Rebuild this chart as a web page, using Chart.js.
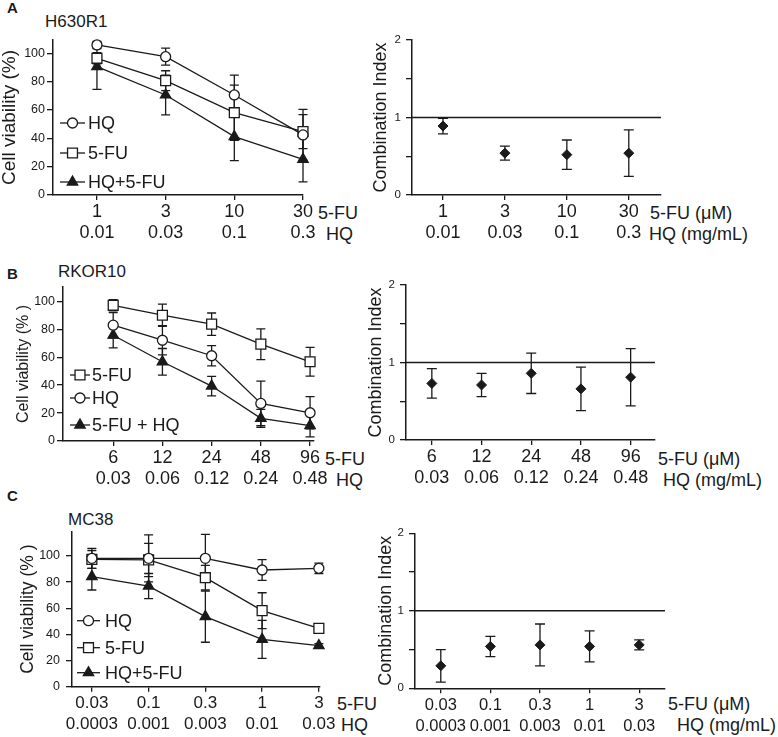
<!DOCTYPE html>
<html>
<head>
<meta charset="utf-8">
<script src="https://cdn.jsdelivr.net/npm/chart.js@4.4.0/dist/chart.umd.min.js"></script>
<style>
  body { margin: 0; background: #fff; width: 778px; height: 737px; position: relative; overflow: hidden;
         font-family: 'Liberation Sans', Arial, sans-serif; color: #1a1a1a; }
  canvas { position: absolute; }
  .t { position: absolute; white-space: nowrap; line-height: 1; transform: translateY(-50%); font-size: 18px; }
  .p { font-weight: bold; font-size: 15px; }
  .n { font-size: 17px; }
</style>
</head>
<body>
<!-- panel letters and cell line names -->
<div class="t p" style="left:7px;top:7px">A</div>
<div class="t n" style="left:45px;top:21px">H630R1</div>
<div class="t p" style="left:7px;top:273px">B</div>
<div class="t n" style="left:58px;top:271px">RKOR10</div>
<div class="t p" style="left:7px;top:495px">C</div>
<div class="t n" style="left:68px;top:519px">MC38</div>

<!-- dose row names -->
<div class="t" style="left:318px;top:213px">5-FU</div>
<div class="t" style="left:326px;top:234px">HQ</div>
<div class="t" style="left:650px;top:213px">5-FU (μM)</div>
<div class="t" style="left:649px;top:234px">HQ (mg/mL)</div>

<div class="t" style="left:325px;top:459px">5-FU</div>
<div class="t" style="left:336px;top:480px">HQ</div>
<div class="t" style="left:658px;top:459px">5-FU (μM)</div>
<div class="t" style="left:663px;top:480px">HQ (mg/mL)</div>

<div class="t" style="left:337px;top:704px">5-FU</div>
<div class="t" style="left:341px;top:725px">HQ</div>
<div class="t" style="left:668px;top:704px">5-FU (μM)</div>
<div class="t" style="left:677px;top:725px">HQ (mg/mL)</div>

<canvas id="aLeft"></canvas>
<canvas id="aRight"></canvas>
<canvas id="bLeft"></canvas>
<canvas id="bRight"></canvas>
<canvas id="cLeft"></canvas>
<canvas id="cRight"></canvas>

<script>
// Data - A: H630R1
const aDoseFU = ['1', '3', '10', '30'];
const aDoseHQ = ['0.01', '0.03', '0.1', '0.3'];
const aHQ = [105.9, 97.6, 70.6, 42.4];
const aHQsd = [2.5, 6, 14, 18];
const aFU = [96.5, 80.7, 58.1, 44.7];
const aFUsd = [4, 7, 19.5, 12];
const aCombo = [90.6, 70.6, 41.2, 25.2];
const aCombosd = [16, 14, 17, 16];
const aCI = [0.89, 0.54, 0.52, 0.54];
const aCIsd = [0.1, 0.09, 0.19, 0.3];

// Data - B: RKOR10
const bDoseFU = ['6', '12', '24', '48', '96'];
const bDoseHQ = ['0.03', '0.06', '0.12', '0.24', '0.48'];
const bFU = [97.1, 90, 83.6, 69.3, 56.7];
const bFUsd = [4, 8, 8, 11, 10.3];
const bHQ = [82.9, 72.1, 61, 26.9, 20.2];
const bHQsd = [9, 10.5, 7.2, 16, 11.5];
const bCombo = [75.7, 56.7, 39.3, 16.2, 11];
const bCombosd = [9, 9.5, 7, 6.5, 8];
const bCI = [0.73, 0.71, 0.86, 0.66, 0.81];
const bCIsd = [0.19, 0.15, 0.26, 0.28, 0.37];

// Data - C: MC38
const cDoseFU = ['0.03', '0.1', '0.3', '1', '3'];
const cDoseHQ = ['0.0003', '0.001', '0.003', '0.01', '0.03'];
const cHQ = [98.2, 98.2, 98.2, 89.3, 90.6];
const cHQsd = [7.7, 18, 18.4, 8, 4];
const cFU = [97.4, 97, 83.4, 58.2, 44.6];
const cFUsd = [6.8, 12.7, 9.4, 13.7, 3.5];
const cCombo = [84.2, 77, 53.6, 36.2, 31.4];
const cCombosd = [10.2, 9.6, 19.6, 14.5, 1.5];
const cCI = [0.29, 0.54, 0.56, 0.54, 0.56];
const cCIsd = [0.21, 0.13, 0.27, 0.2, 0.065];

// tick values
const viabTicks = [0, 20, 40, 60, 80, 100];
const ciTicks = [0, 0.5, 1, 1.5, 2];

const INK = '#1a1a1a';
Chart.defaults.font.family = "'Liberation Sans', Arial, sans-serif";
Chart.defaults.color = INK;

// error bars (mean +/- SD), drawn under the markers
const errorBars = {
  id: 'errorBars',
  beforeDatasetsDraw(chart) {
    const { ctx, scales: { x, y } } = chart;
    ctx.save();
    ctx.strokeStyle = INK;
    ctx.lineWidth = 1.3;
    chart.data.datasets.forEach(ds => {
      if (!ds.sd) return;
      const w = ds.cap || 4.5;
      ds.data.forEach((p, i) => {
        const px = x.getPixelForValue(p.x);
        const top = y.getPixelForValue(p.y + ds.sd[i]);
        const bot = y.getPixelForValue(p.y - ds.sd[i]);
        ctx.beginPath();
        ctx.moveTo(px, top); ctx.lineTo(px, bot);
        ctx.moveTo(px - w, top); ctx.lineTo(px + w, top);
        ctx.moveTo(px - w, bot); ctx.lineTo(px + w, bot);
        ctx.stroke();
      });
    });
    ctx.restore();
  }
};

// small legend inside the plot: line + marker + label
const miniLegend = {
  id: 'miniLegend',
  afterDatasetsDraw(chart, args, o) {
    if (!o || !o.rows) return;
    const { ctx, chartArea } = chart;
    ctx.save();
    ctx.font = "18px 'Liberation Sans', Arial, sans-serif";
    ctx.textBaseline = 'middle';
    chart.data.datasets.forEach((ds, i) => {
      if (o.rows[i] == null) return;
      const y = chartArea.top + o.rows[i];
      const a = chartArea.left + o.line[0], b = chartArea.left + o.line[1];
      ctx.strokeStyle = INK;
      ctx.lineWidth = 1.3;
      ctx.beginPath(); ctx.moveTo(a, y); ctx.lineTo(b, y); ctx.stroke();
      ctx.fillStyle = ds.pointBackgroundColor;
      Chart.helpers.drawPoint(ctx, { pointStyle: ds.pointStyle, radius: ds.pointRadius, borderWidth: 1.3, rotation: 0 }, (a + b) / 2, y);
      ctx.fillStyle = INK;
      ctx.fillText(ds.label, chartArea.left + o.text, y + 1);
    });
    ctx.restore();
  }
};

function series(label, vals, sd, style, radius) {
  return {
    label: label,
    data: vals.map((y, i) => ({ x: i, y: y })),
    sd: sd,
    borderColor: INK,
    borderWidth: 1.3,
    pointStyle: style,
    pointRadius: radius,
    pointBackgroundColor: style === 'triangle' ? INK : '#fff',
    pointBorderColor: INK,
    pointBorderWidth: 1.3,
    clip: false
  };
}

function ciSeries(vals, sd) {
  return {
    data: vals.map((y, i) => ({ x: i, y: y })),
    sd: sd,
    cap: 5,
    showLine: false,
    pointStyle: 'rectRot',
    pointRadius: 5,
    pointBackgroundColor: INK,
    pointBorderColor: INK,
    pointBorderWidth: 1,
    clip: false
  };
}

function unityLine(xmin, xmax) {
  return { data: [{ x: xmin, y: 1 }, { x: xmax, y: 1 }], borderColor: INK, borderWidth: 1.4, pointRadius: 0 };
}

// c.box = [left, top, width, height] of the canvas, c.area = [x0, y0, x1, y1] wanted plot area (page px)
function makeChart(c) {
  const cv = document.getElementById(c.id);
  const [L, T, W, H] = c.box;
  const [x0, y0, x1, y1] = c.area;
  cv.style.left = L + 'px';
  cv.style.top = T + 'px';
  cv.width = W;
  cv.height = H;
  const axisGrid = (len) => ({ display: true, drawOnChartArea: false, drawTicks: true, tickLength: len, color: INK, lineWidth: 1.3 });
  const xFont = c.xFont || 18;
  return new Chart(cv, {
    type: 'line',
    data: { datasets: c.datasets },
    options: {
      responsive: false,
      animation: false,
      events: [],
      layout: { padding: { left: 0, top: y0 - T, right: L + W - x1, bottom: 0 } },
      plugins: { legend: { display: false }, tooltip: { enabled: false }, miniLegend: c.legend || false },
      scales: {
        x: {
          type: 'linear', min: c.xmin, max: c.xmax,
          afterBuildTicks: s => { s.ticks = c.doseFU.map((_, i) => ({ value: i })); },
          afterFit: s => { s.height = T + H - y1; },
          grid: axisGrid(5),
          border: { color: INK, width: 1.5 },
          ticks: {
            font: { size: xFont, lineHeight: 21 / xFont }, padding: 1.5, maxRotation: 0, autoSkip: false,
            callback: v => [c.doseFU[Math.round(v)], c.doseHQ[Math.round(v)]]
          }
        },
        y: {
          type: 'linear', min: 0, max: c.ymax,
          afterBuildTicks: s => { s.ticks = c.yTicks.map(v => ({ value: v })); },
          afterFit: s => { s.width = x0 - L; },
          grid: axisGrid(c.yTickLen),
          border: { color: INK, width: 1.5 },
          ticks: { font: { size: c.yFont }, padding: c.yPad, callback: c.yFmt || (v => v) },
          title: {
            display: true, text: c.title, color: INK,
            font: { size: c.titleSize, lineHeight: 1 },
            padding: { top: c.titleX - L - c.titleSize / 2, bottom: 0 }
          }
        }
      }
    },
    plugins: [errorBars, miniLegend]
  });
}

const ciLabel = v => (Number.isInteger(v) ? String(v) : '');

// A
makeChart({
  id: 'aLeft', box: [0, 0, 340, 245], area: [53, 40, 303, 195],
  xmin: -0.64, xmax: 3, ymax: 109.4, yTicks: viabTicks, yFont: 12.5, yPad: 2, yTickLen: 6,
  doseFU: aDoseFU, doseHQ: aDoseHQ,
  title: 'Cell viability (%)', titleSize: 19, titleX: 10,
  legend: { rows: [83, 113, 142], line: [7, 32], text: 35 },
  datasets: [
    series('HQ', aHQ, aHQsd, 'circle', 5),
    series('5-FU', aFU, aFUsd, 'rect', 7),
    series('HQ+5-FU', aCombo, aCombosd, 'triangle', 6)
  ]
});
makeChart({
  id: 'aRight', box: [365, 0, 310, 245], area: [412, 40, 661, 195],
  xmin: -0.5, xmax: 3.52, ymax: 2, yTicks: ciTicks, yFont: 11.5, yPad: 5, yTickLen: 6, yFmt: ciLabel,
  doseFU: aDoseFU, doseHQ: aDoseHQ,
  title: 'Combination Index', titleSize: 18, titleX: 381,
  datasets: [ciSeries(aCI, aCIsd), unityLine(-0.5, 3.52)]
});

// B
makeChart({
  id: 'bLeft', box: [0, 250, 340, 245], area: [63, 287, 314, 441],
  xmin: -1.02, xmax: 4.08, ymax: 110.2, yTicks: viabTicks, yFont: 12.5, yPad: 2, yTickLen: 6,
  doseFU: bDoseFU, doseHQ: bDoseHQ,
  title: 'Cell viability (% )', titleSize: 16, titleX: 24,
  legend: { rows: [88, 111, 138], line: [7, 27], text: 29 },
  datasets: [
    series('5-FU', bFU, bFUsd, 'rect', 7),
    series('HQ', bHQ, bHQsd, 'circle', 5),
    series('5-FU + HQ', bCombo, bCombosd, 'triangle', 6)
  ]
});
makeChart({
  id: 'bRight', box: [365, 250, 310, 245], area: [406, 285, 655, 440],
  xmin: -0.52, xmax: 4.49, ymax: 2, yTicks: ciTicks, yFont: 11.5, yPad: 5, yTickLen: 6, yFmt: ciLabel,
  doseFU: bDoseFU, doseHQ: bDoseHQ,
  title: 'Combination Index', titleSize: 18, titleX: 376,
  datasets: [ciSeries(bCI, bCIsd), unityLine(-0.52, 4.49)]
});

// C
makeChart({
  id: 'cLeft', box: [0, 495, 345, 242], area: [72, 531.7, 320, 686.7],
  xmin: -0.35, xmax: 4.02, ymax: 118.6, yTicks: viabTicks, yFont: 12.5, yPad: 6, yTickLen: 6, xFont: 17,
  doseFU: cDoseFU, doseHQ: cDoseHQ,
  title: 'Cell viability (% )', titleSize: 17.5, titleX: 28,
  legend: { rows: [89, 116, 141], line: [5, 28], text: 33 },
  datasets: [
    series('HQ', cHQ, cHQsd, 'circle', 5),
    series('5-FU', cFU, cFUsd, 'rect', 7),
    series('HQ+5-FU', cCombo, cCombosd, 'triangle', 6)
  ]
});
makeChart({
  id: 'cRight', box: [365, 495, 310, 242], area: [415, 533.3, 665, 688.3],
  xmin: -0.52, xmax: 4.52, ymax: 2, yTicks: ciTicks, yFont: 11.5, yPad: 5, yTickLen: 6, yFmt: ciLabel, xFont: 16.5,
  doseFU: cDoseFU, doseHQ: cDoseHQ,
  title: 'Combination Index', titleSize: 18, titleX: 386,
  datasets: [ciSeries(cCI, cCIsd), unityLine(-0.52, 4.52)]
});
</script>
</body>
</html>
